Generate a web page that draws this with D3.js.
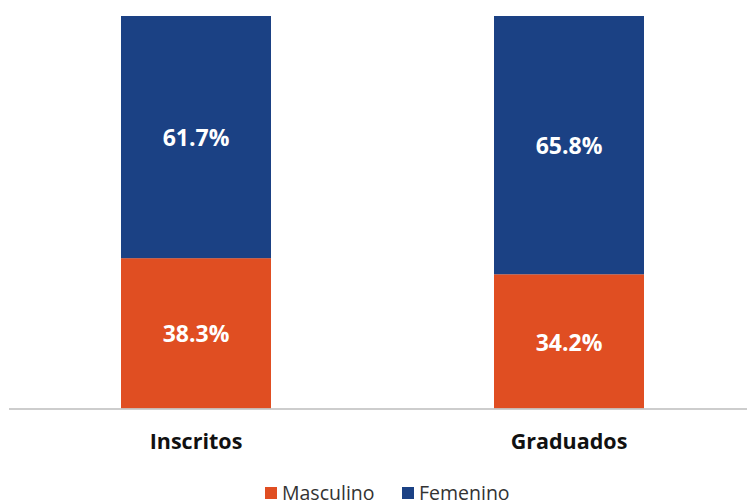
<!DOCTYPE html>
<html>
<head>
<meta charset="utf-8">
<script src="https://cdn.jsdelivr.net/npm/d3@7"></script>
<style>
  body { margin: 0; background: #fff; }
  svg { display: block; font-family: "Open Sans", "Noto Sans", sans-serif; }
</style>
</head>
<body>
<svg id="chart" width="747" height="502"></svg>
<script>
// data
const categories = ['Inscritos', 'Graduados'];
const seriesNames = ['Masculino', 'Femenino'];
const masculino = [38.3, 34.2];
const femenino = [61.7, 65.8];
const colors = ['#E04E22', '#1B4184'];

const svg = d3.select('#chart');
const baseY = 408.5;
const topY = 16;

const x = d3.scaleBand().domain(categories).range([9.5, 755.5]).padding(0);
const y = d3.scaleLinear().domain([0, 100]).range([baseY, topY]);
const barWidth = 150;

const rows = categories.map((c, i) => ({ cat: c, Masculino: masculino[i], Femenino: femenino[i] }));
const stacked = d3.stack().keys(seriesNames)(rows);

// bars
stacked.forEach((layer, li) => {
  const g = svg.append('g');
  g.selectAll('rect')
    .data(layer)
    .join('rect')
    .attr('x', d => x(d.data.cat) + x.bandwidth() / 2 - barWidth / 2)
    .attr('y', d => y(d[1]))
    .attr('width', barWidth)
    .attr('height', d => y(d[0]) - y(d[1]))
    .attr('fill', colors[li]);

  g.selectAll('text')
    .data(layer)
    .join('text')
    .attr('x', d => x(d.data.cat) + x.bandwidth() / 2)
    .attr('y', d => (y(d[0]) + y(d[1])) / 2 + 3)
    .attr('text-anchor', 'middle')
    .attr('dominant-baseline', 'middle')
    .attr('fill', '#fff')
    .attr('font-weight', 'bold')
    .attr('font-size', 23)
    .text(d => (d[1] - d[0]).toFixed(1) + '%');
});

// axis line
svg.append('line')
  .attr('x1', 9).attr('x2', 747)
  .attr('y1', baseY + 0.5).attr('y2', baseY + 0.5)
  .attr('stroke', '#bcbcbc')
  .attr('stroke-width', 1.5);

// category labels
svg.append('g').selectAll('text')
  .data(categories)
  .join('text')
  .attr('x', d => x(d) + x.bandwidth() / 2)
  .attr('y', 449)
  .attr('text-anchor', 'middle')
  .attr('font-weight', 'bold')
  .attr('font-size', 21.5)
  .attr('fill', '#111')
  .text(d => d);

// legend
const legendX = [265, 402];
const legend = svg.append('g');
seriesNames.forEach((name, i) => {
  legend.append('rect')
    .attr('x', legendX[i]).attr('y', 487)
    .attr('width', 12).attr('height', 12)
    .attr('fill', colors[i]);
  legend.append('text')
    .attr('x', legendX[i] + 17).attr('y', 500)
    .attr('font-size', 19.5)
    .attr('fill', '#333')
    .text(name);
});
</script>
</body>
</html>
